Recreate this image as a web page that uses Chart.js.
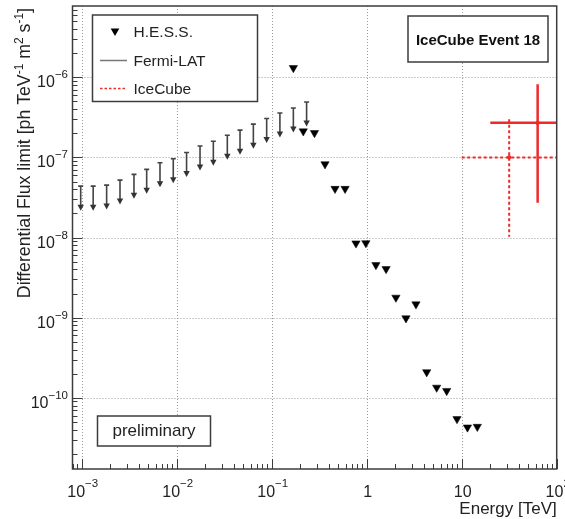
<!DOCTYPE html>
<html>
<head>
<meta charset="utf-8">
<script src="https://cdn.jsdelivr.net/npm/chart.js@4/dist/chart.umd.min.js"></script>
<style>
  html, body { margin: 0; padding: 0; background: #fff; }
  #wrap { width: 565px; height: 519px; }
</style>
</head>
<body>
<div id="wrap"><canvas id="myChart" width="565" height="519"></canvas></div>
<script>
// H.E.S.S. upper limits (TeV, ph TeV^-1 m^-2 s^-1)
const hessEnergy = [0.169, 0.215, 0.282, 0.364, 0.464, 0.592, 0.771, 0.98, 1.25, 1.60,
  2.03, 2.59, 3.30, 4.28, 5.45, 6.95, 8.92, 11.5, 14.6];
const hessFlux = [1.31e-6, 2.12e-7, 2.02e-7, 8.24e-8, 4.06e-8, 4.06e-8, 8.47e-9, 8.53e-9,
  4.54e-9, 4.05e-9, 1.78e-9, 9.84e-10, 1.47e-9, 2.09e-10, 1.34e-10, 1.22e-10,
  5.43e-11, 4.27e-11, 4.35e-11];

// Fermi-LAT upper limits
const fermiEnergy = [9.76e-4, 1.32e-3, 1.83e-3, 2.53e-3, 3.55e-3, 4.83e-3, 6.67e-3, 9.2e-3,
  1.27e-2, 1.76e-2, 2.43e-2, 3.41e-2, 4.64e-2, 6.41e-2, 8.85e-2, 0.122, 0.169, 0.233];
const fermiLimit = [4.38e-8, 4.38e-8, 4.51e-8, 5.21e-8, 6.14e-8, 7.09e-8, 8.56e-8, 9.6e-8,
  1.15e-7, 1.39e-7, 1.59e-7, 1.89e-7, 2.19e-7, 2.60e-7, 3.06e-7, 3.59e-7, 4.14e-7, 4.92e-7];

// IceCube event 18 (first: dashed, second: solid)
const iceEnergy = [31.6, 63];
const iceEnergyLow = [10, 20];
const iceEnergyHigh = [100, 200];
const iceFlux = [1.0e-7, 2.7e-7];
const iceFluxLow = [1.02e-8, 2.72e-8];
const iceFluxHigh = [3.0e-7, 8.2e-7];

// axes
const xTicks = [1e-3, 1e-2, 1e-1, 1, 10, 100];
const xTickLabels = [['10', '\u22123'], ['10', '\u22122'], ['10', '\u22121'], ['1', ''], ['10', ''], ['10', '2']];
const yTicks = [1e-10, 1e-9, 1e-8, 1e-7, 1e-6];
const yTickLabels = [['10', '\u221210'], ['10', '\u22129'], ['10', '\u22128'], ['10', '\u22127'], ['10', '\u22126']];

const fontFam = '"Liberation Sans", Arial, Helvetica, sans-serif';
const red = '#ee2a2a';
const frameColor = '#3c3c3c';

function richWidth(ctx, segs, size, supSize) {
  let w = 0;
  segs.forEach(s => {
    ctx.font = (s.sup ? supSize : size) + 'px ' + fontFam;
    w += ctx.measureText(s.t).width;
  });
  return w;
}

function drawRich(ctx, segs, x, y, align, size, supSize, rise) {
  const w = richWidth(ctx, segs, size, supSize);
  let cx = align === 'right' ? x - w : (align === 'center' ? x - w / 2 : x);
  ctx.textAlign = 'left';
  ctx.textBaseline = 'alphabetic';
  segs.forEach(s => {
    ctx.font = (s.sup ? supSize : size) + 'px ' + fontFam;
    ctx.fillText(s.t, cx, s.sup ? y - rise : y);
    cx += ctx.measureText(s.t).width;
  });
}

function downTriangle(ctx, x, y, r) {
  ctx.beginPath();
  ctx.moveTo(x, y + r);
  ctx.lineTo(x - r * 0.866, y - r / 2);
  ctx.lineTo(x + r * 0.866, y - r / 2);
  ctx.closePath();
  ctx.fill();
}

const rootStyle = {
  id: 'rootStyle',
  beforeDatasetsDraw(chart) {
    const {ctx, chartArea: a, scales: {x, y}} = chart;

    // dotted grid
    ctx.save();
    ctx.strokeStyle = '#9a9a9a';
    ctx.lineWidth = 1;
    ctx.setLineDash([1, 2]);
    xTicks.forEach(v => {
      const px = Math.round(x.getPixelForValue(v)) + 0.5;
      if (px < a.left + 2 || px > a.right - 2) return;
      ctx.beginPath(); ctx.moveTo(px, a.top); ctx.lineTo(px, a.bottom); ctx.stroke();
    });
    yTicks.forEach(v => {
      const py = Math.round(y.getPixelForValue(v)) + 0.5;
      if (py < a.top + 2 || py > a.bottom - 2) return;
      ctx.beginPath(); ctx.moveTo(a.left, py); ctx.lineTo(a.right, py); ctx.stroke();
    });
    ctx.restore();

    // Fermi-LAT arrows
    ctx.save();
    ctx.strokeStyle = '#444';
    ctx.fillStyle = '#333';
    ctx.lineWidth = 1.6;
    chart.getDatasetMeta(1).data.forEach(pt => {
      const px = pt.x, py = pt.y;
      ctx.beginPath();
      ctx.moveTo(px - 2.5, py); ctx.lineTo(px + 2.5, py);
      ctx.moveTo(px, py); ctx.lineTo(px, py + 20);
      ctx.stroke();
      ctx.beginPath();
      ctx.moveTo(px, py + 24.5);
      ctx.lineTo(px - 3.2, py + 18.5);
      ctx.lineTo(px + 3.2, py + 18.5);
      ctx.closePath();
      ctx.fill();
    });
    ctx.restore();

    // IceCube error bars
    ctx.save();
    ctx.beginPath();
    ctx.rect(a.left, a.top, a.width, a.height);
    ctx.clip();
    ctx.strokeStyle = red;
    iceEnergy.forEach((e, i) => {
      const cx = x.getPixelForValue(e), cy = y.getPixelForValue(iceFlux[i]);
      const xl = x.getPixelForValue(iceEnergyLow[i]), xh = x.getPixelForValue(iceEnergyHigh[i]);
      const yl = y.getPixelForValue(iceFluxLow[i]), yh = y.getPixelForValue(iceFluxHigh[i]);
      if (i === 0) { ctx.setLineDash([3, 2.5]); ctx.lineWidth = 2; }
      else { ctx.setLineDash([]); ctx.lineWidth = 2.5; }
      ctx.beginPath();
      ctx.moveTo(xl, cy); ctx.lineTo(xh, cy);
      ctx.moveTo(cx, yh); ctx.lineTo(cx, yl);
      ctx.stroke();
    });
    ctx.restore();
  },
  afterDatasetsDraw(chart) {
    const {ctx, chartArea: a, scales: {x, y}} = chart;
    ctx.save();

    // frame
    ctx.strokeStyle = frameColor;
    ctx.lineWidth = 1.5;
    ctx.strokeRect(a.left, a.top, a.right - a.left, a.bottom - a.top);

    // ticks (inside, left and bottom)
    ctx.lineWidth = 1;
    ctx.beginPath();
    for (let d = -4; d <= 2; d++) {
      for (let m = 1; m <= 9; m++) {
        const v = m * Math.pow(10, d);
        const px = x.getPixelForValue(v);
        if (px < a.left || px > a.right + 0.5) continue;
        const len = m === 1 ? 10 : 5;
        ctx.moveTo(Math.round(px) + 0.5, a.bottom); ctx.lineTo(Math.round(px) + 0.5, a.bottom - len);
      }
    }
    for (let d = -12; d <= -5; d++) {
      for (let m = 1; m <= 9; m++) {
        const v = m * Math.pow(10, d);
        const py = y.getPixelForValue(v);
        if (py < a.top || py > a.bottom) continue;
        const len = m === 1 ? 10 : 5;
        ctx.moveTo(a.left, Math.round(py) + 0.5); ctx.lineTo(a.left + len, Math.round(py) + 0.5);
      }
    }
    ctx.stroke();

    // tick labels
    ctx.fillStyle = '#222';
    xTicks.forEach((v, i) => {
      const px = x.getPixelForValue(v);
      const segs = [{t: xTickLabels[i][0]}];
      if (xTickLabels[i][1]) segs.push({t: xTickLabels[i][1], sup: true});
      drawRich(ctx, segs, px + 1, 496.5, 'center', 16, 11.5, 9.5);
    });
    yTicks.forEach((v, i) => {
      const py = y.getPixelForValue(v);
      const segs = [{t: yTickLabels[i][0]}, {t: yTickLabels[i][1], sup: true}];
      drawRich(ctx, segs, 68, py + 10, 'right', 16, 11.5, 9);
    });

    // axis titles
    drawRich(ctx, [{t: 'Energy [TeV]'}], a.right, 514, 'right', 17, 12, 7);
    ctx.save();
    ctx.translate(29.5, 8);
    ctx.rotate(-Math.PI / 2);
    drawRich(ctx, [
      {t: 'Differential Flux limit [ph TeV'}, {t: '-1', sup: true},
      {t: ' m'}, {t: '2', sup: true},
      {t: ' s'}, {t: '-1', sup: true}, {t: ']'}
    ], 0, 0, 'right', 17.7, 12, 7);
    ctx.restore();

    // legend
    ctx.fillStyle = '#fff';
    ctx.fillRect(92.5, 15, 165, 86.5);
    ctx.strokeStyle = frameColor;
    ctx.lineWidth = 1.5;
    ctx.strokeRect(92.5, 15, 165, 86.5);
    ctx.fillStyle = '#000';
    downTriangle(ctx, 115, 31, 5);
    ctx.strokeStyle = '#777';
    ctx.lineWidth = 1.5;
    ctx.beginPath(); ctx.moveTo(100, 60.5); ctx.lineTo(127, 60.5); ctx.stroke();
    ctx.strokeStyle = red;
    ctx.setLineDash([2.5, 2]);
    ctx.beginPath(); ctx.moveTo(100, 88.5); ctx.lineTo(127, 88.5); ctx.stroke();
    ctx.setLineDash([]);
    ctx.fillStyle = '#222';
    const names = chart.data.datasets.map(ds => ds.label);
    [37.2, 65.5, 93.8].forEach((by, i) => {
      ctx.font = '15.5px ' + fontFam;
      ctx.textAlign = 'left';
      ctx.textBaseline = 'alphabetic';
      ctx.fillText(names[i], 133.5, by);
    });

    // event label box
    ctx.fillStyle = '#fff';
    ctx.fillRect(408, 16, 140, 46);
    ctx.strokeStyle = frameColor;
    ctx.strokeRect(408, 16, 140, 46);
    ctx.fillStyle = '#111';
    ctx.font = 'bold 15px ' + fontFam;
    ctx.textAlign = 'center';
    ctx.fillText('IceCube Event 18', 478, 45);

    // preliminary box
    ctx.fillStyle = '#fff';
    ctx.fillRect(97.5, 416, 113, 30);
    ctx.strokeStyle = frameColor;
    ctx.strokeRect(97.5, 416, 113, 30);
    ctx.fillStyle = '#222';
    ctx.font = '17px ' + fontFam;
    ctx.textAlign = 'center';
    ctx.fillText('preliminary', 154, 436);

    ctx.restore();
  }
};

new Chart(document.getElementById('myChart'), {
  type: 'scatter',
  data: {
    datasets: [
      {
        label: 'H.E.S.S.',
        data: hessEnergy.map((e, i) => ({x: e, y: hessFlux[i]})),
        pointStyle: 'triangle',
        rotation: 180,
        pointRadius: 4.8,
        pointBackgroundColor: '#000',
        pointBorderColor: '#000',
        pointBorderWidth: 0.5,
        showLine: false
      },
      {
        label: 'Fermi-LAT',
        data: fermiEnergy.map((e, i) => ({x: e, y: fermiLimit[i]})),
        pointRadius: 0,
        showLine: false
      },
      {
        label: 'IceCube',
        data: iceEnergy.map((e, i) => ({x: e, y: iceFlux[i]})),
        pointRadius: 1.8,
        pointBackgroundColor: red,
        pointBorderColor: red,
        showLine: false
      }
    ]
  },
  options: {
    responsive: false,
    animation: false,
    devicePixelRatio: 1,
    events: [],
    layout: { padding: { left: 72.5, top: 6, right: 8.3, bottom: 50 } },
    scales: {
      x: { type: 'logarithmic', min: 8.0e-4, max: 100, display: false },
      y: { type: 'logarithmic', min: 1.29e-11, max: 7.76e-6, display: false }
    },
    plugins: {
      legend: { display: false },
      tooltip: { enabled: false }
    }
  },
  plugins: [rootStyle]
});
</script>
</body>
</html>
